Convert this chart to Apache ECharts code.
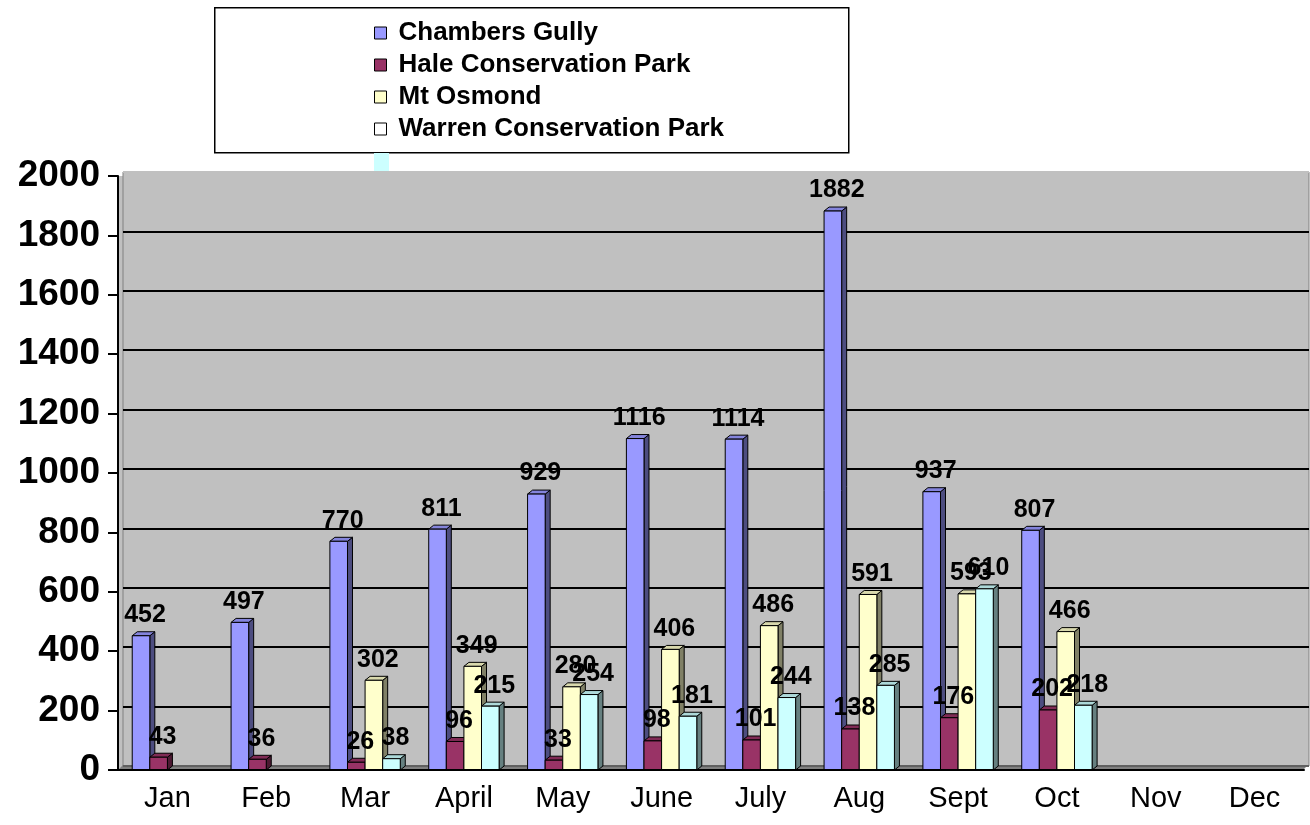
<!DOCTYPE html>
<html>
<head>
<meta charset="utf-8">
<script src="https://cdn.jsdelivr.net/npm/echarts@6/dist/echarts.min.js"></script>
<style>
html,body{margin:0;padding:0;background:#fff;}
#chart{width:1310px;height:825px;}
</style>
</head>
<body>
<div id="chart"></div>
<script>
const months = ['Jan','Feb','Mar','April','May','June','July','Aug','Sept','Oct','Nov','Dec'];
const seriesNames = ['Chambers Gully','Hale Conservation Park','Mt Osmond','Warren Conservation Park'];
const chambersGully = [452, 497, 770, 811, 929, 1116, 1114, 1882, 937, 807, null, null];
const haleConservationPark = [43, 36, 26, 96, 33, 98, 101, 138, 176, 202, null, null];
const mtOsmond = [null, null, 302, 349, 280, 406, 486, 591, 593, 466, null, null];
const warrenConservationPark = [null, null, 38, 215, 254, 181, 244, 285, 610, 218, null, null];
const yTicks = {min: 0, max: 2000, interval: 200};

const seriesValues = [chambersGully, haleConservationPark, mtOsmond, warrenConservationPark];
const faceColors = [
  {front:'#9999ff', side:'#4d4d80', top:'#8484dc'},
  {front:'#993366', side:'#4d1a33', top:'#802b55'},
  {front:'#ffffcc', side:'#808066', top:'#d9d9ad'},
  {front:'#ccffff', side:'#668080', top:'#add9d9'}
];
const legendIconColors = ['#9999ff','#993366','#ffffcc','#ffffff'];
const DX = 5, DY = 4;
const FONT = 'Arial, "Liberation Sans", sans-serif';

function toData(arr){
  return arr.map((v,i)=>[i,v]).filter(d=>d[1]!==null && d[1]!==undefined);
}
function barGeom(api, sIdx){
  const cat = api.value(0), val = api.value(1);
  const base = api.coord([cat, 0]);
  const tp = api.coord([cat, val]);
  const band = api.size([1,0])[0];
  const w = band*0.178;
  const x0 = base[0] - 2*w + sIdx*w;
  return {x0, x1: x0 + w, yb: base[1], yt: tp[1], w, val};
}
function barRender(sIdx){
  const c = faceColors[sIdx];
  return function(params, api){
    const g = barGeom(api, sIdx);
    const st = (fill)=>({fill, stroke:'#000', lineWidth:1});
    return {type:'group', children:[
      {type:'polygon', shape:{points:[[g.x1,g.yb],[g.x1+DX,g.yb-DY],[g.x1+DX,g.yt-DY],[g.x1,g.yt]]}, style:st(c.side)},
      {type:'polygon', shape:{points:[[g.x0,g.yt],[g.x0+DX,g.yt-DY],[g.x1+DX,g.yt-DY],[g.x1,g.yt]]}, style:st(c.top)},
      {type:'rect', shape:{x:g.x0, y:g.yt, width:g.w, height:g.yb-g.yt}, style:st(c.front)}
    ]};
  };
}
function labelRender(sIdx){
  return function(params, api){
    const g = barGeom(api, sIdx);
    return {type:'text', x:(g.x0+g.x1)/2 + 4, y:g.yt - 8,
      style:{text:String(g.val), fontSize:25, fontWeight:'bold', fontFamily:FONT,
             fill:'#000', align:'center', verticalAlign:'bottom'}};
  };
}

const series = [];
seriesValues.forEach((arr, i)=>{
  series.push({name:seriesNames[i], type:'custom', xAxisIndex:0, yAxisIndex:0,
    renderItem:barRender(i), data:toData(arr), encode:{x:0,y:1}, z:3,
    itemStyle:{color:faceColors[i].front}, animation:false});
});
seriesValues.forEach((arr, i)=>{
  series.push({type:'custom', xAxisIndex:0, yAxisIndex:0,
    renderItem:labelRender(i), data:toData(arr), encode:{x:0,y:1}, z:10,
    silent:true, animation:false});
});

const splitColors = [];
for (let v = yTicks.min; v <= yTicks.max; v += yTicks.interval){
  splitColors.push(v === yTicks.max ? '#c0c0c0' : (v === yTicks.min ? '#606060' : '#000'));
}

const chart = echarts.init(document.getElementById('chart'), null, {renderer:'canvas'});
chart.setOption({
  animation:false,
  backgroundColor:'#ffffff',
  grid:[
    {left:118, right:6, top:176, bottom:55, show:true, backgroundColor:'#c0c0c0', borderWidth:0, z:0},
    {left:123, right:1, top:172, bottom:59, show:true, backgroundColor:'#c0c0c0', borderColor:'#808080', borderWidth:1, z:0}
  ],
  xAxis:[
    {type:'category', gridIndex:0, data:months, z:5,
     axisLine:{lineStyle:{color:'#000', width:2}},
     axisTick:{length:8, lineStyle:{color:'#000', width:2}},
     axisLabel:{fontSize:29, fontFamily:FONT, color:'#000', margin:14},
     splitLine:{show:false}},
    {type:'category', gridIndex:1, data:months, show:false}
  ],
  yAxis:[
    {type:'value', gridIndex:0, min:yTicks.min, max:yTicks.max, interval:yTicks.interval, z:5,
     axisLine:{show:true, lineStyle:{color:'#000', width:2}},
     axisTick:{show:true, length:10, lineStyle:{color:'#000', width:2}},
     axisLabel:{fontSize:37, fontWeight:'bold', fontFamily:FONT, color:'#000', margin:18,
                formatter:(v)=>String(v)},
     splitLine:{show:false}},
    {type:'value', gridIndex:1, min:yTicks.min, max:yTicks.max, interval:yTicks.interval, z:1,
     axisLine:{show:false}, axisTick:{show:false}, axisLabel:{show:false},
     splitLine:{show:true, lineStyle:{color:splitColors, width:2}}}
  ],
  legend:{
    orient:'vertical', left:369, top:15, z:6,
    itemWidth:12, itemHeight:12, itemGap:6,
    textStyle:{fontSize:26, fontWeight:'bold', fontFamily:FONT, color:'#000', padding:[0,0,0,7]},
    data:seriesNames.map((n,i)=>({name:n, icon:'rect',
      itemStyle:{color:legendIconColors[i], borderColor:'#000', borderWidth:1}})),
    selectedMode:false
  },
  graphic:[
    {type:'rect', left:214, top:7, z:2, shape:{width:634, height:145},
     style:{fill:'#fff', stroke:'#000', lineWidth:1.5}},
    {type:'rect', left:374, top:153, z:2, shape:{width:15, height:18},
     style:{fill:'#ccffff'}},
    {type:'polygon', z:1, shape:{points:[[119,769],[123,765],[1308,765],[1304,769]]},
     style:{fill:'#808080'}}
  ],
  series:series
});
</script>
</body>
</html>
